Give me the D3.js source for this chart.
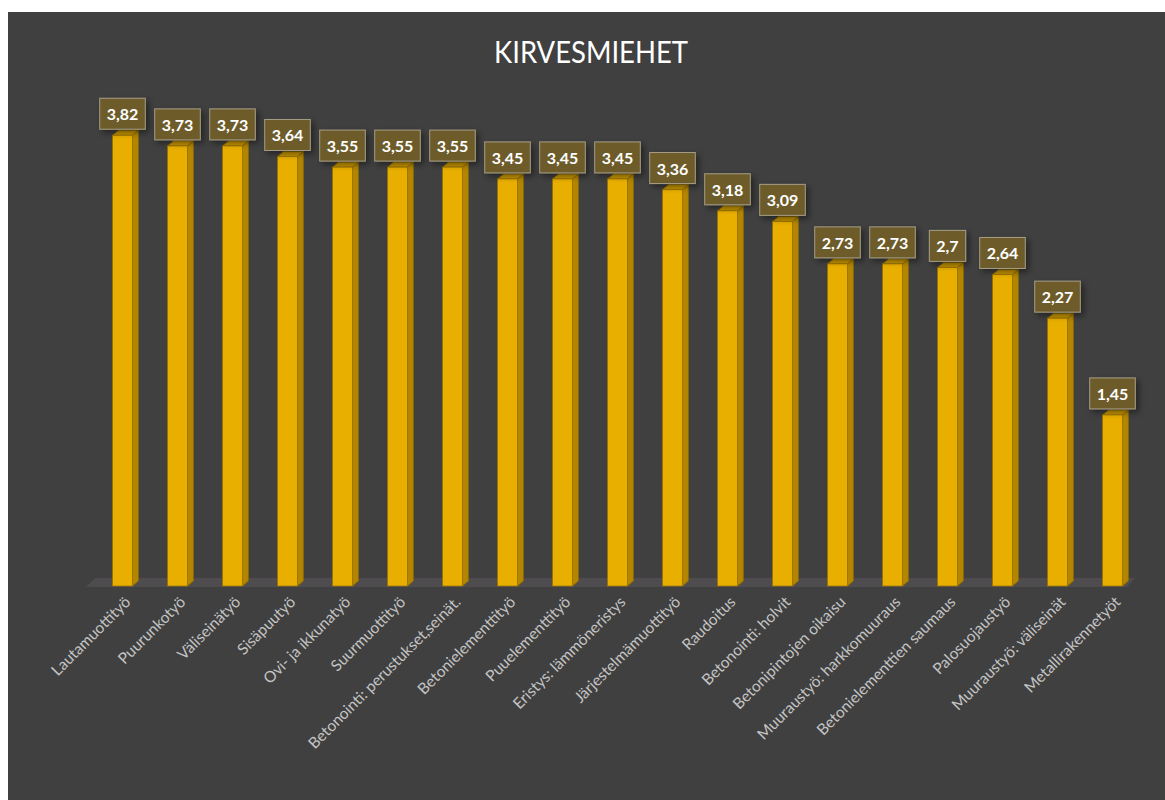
<!DOCTYPE html>
<html>
<head>
<meta charset="utf-8">
<script src="https://cdn.jsdelivr.net/npm/d3@7"></script>
<style>
  html, body { margin: 0; padding: 0; background: #ffffff; }
  svg { display: block; }
</style>
</head>
<body>
<div class="canva"></div>
<script>
const categories = [
  "Lautamuottityö", "Puurunkotyö", "Väliseinätyö", "Sisäpuutyö", "Ovi- ja ikkunatyö",
  "Suurmuottityö", "Betonointi: perustukset,seinät.", "Betonielementtityö", "Puuelementtityö",
  "Eristys: lämmöneristys", "Järjestelmämuottityö", "Raudoitus", "Betonointi: holvit",
  "Betonipintojen oikaisu", "Muuraustyö: harkkomuuraus", "Betonielementtien saumaus",
  "Palosuojaustyö", "Muuraustyö: väliseinät", "Metallirakennetyöt"
];
const values = [3.82, 3.73, 3.73, 3.64, 3.55, 3.55, 3.55, 3.45, 3.45, 3.45, 3.36, 3.18, 3.09, 2.73, 2.73, 2.7, 2.64, 2.27, 1.45];
const title = "KIRVESMIEHET";

const data = categories.map((c, i) => ({cat: c, v: values[i]}));

const W = 1165, H = 800;
const svg = d3.select(".canva").append("svg")
  .attr("width", W)
  .attr("height", H);

const defs = svg.append("defs");
const sh = defs.append("filter").attr("id", "shadow")
  .attr("x", "-50%").attr("y", "-50%").attr("width", "200%").attr("height", "200%");
sh.append("feDropShadow").attr("dx", 3).attr("dy", 3).attr("stdDeviation", 3)
  .attr("flood-color", "#000").attr("flood-opacity", 0.45);

// chart area
svg.append("rect")
  .attr("x", 8).attr("y", 12)
  .attr("width", W - 8).attr("height", H - 12)
  .attr("fill", "#404040");

svg.append("text")
  .attr("x", 591).attr("y", 63)
  .attr("text-anchor", "middle")
  .attr("fill", "#ffffff")
  .style("font-family", "Lato, 'Open Sans', sans-serif")
  .style("font-size", "31px")
  .attr("textLength", 194)
  .attr("lengthAdjust", "spacingAndGlyphs")
  .text(title);

const x = d3.scaleBand()
  .domain(categories)
  .range([95, 1140])
  .paddingInner(0.64)
  .paddingOuter(0.32);

const y = d3.scaleLinear()
  .domain([0, 4.5])
  .range([586, 55]);

const dx = 6, dy = 5;
const base = y(0);

// floor
const [r0, r1] = x.range();
svg.append("polygon")
  .attr("points", [[r0, base - 8], [r1 - 5, base - 8], [r1 - 13, base + 1], [r0 - 9, base + 1]].join(" "))
  .attr("fill", "#4e4c4f");

const bars = svg.append("g").selectAll("g")
  .data(data)
  .enter().append("g");

bars.append("polygon")
  .attr("points", d => {
    const x0 = x(d.cat) + x.bandwidth(), y0 = y(d.v);
    return [[x0, y0], [x0 + dx, y0 - dy], [x0 + dx, base - dy], [x0, base]].join(" ");
  })
  .attr("fill", "#b48600")
  .attr("stroke", "#8f6b00")
  .attr("stroke-width", 0.8);

bars.append("polygon")
  .attr("points", d => {
    const x0 = x(d.cat), y0 = y(d.v), w = x.bandwidth();
    return [[x0, y0], [x0 + dx, y0 - dy], [x0 + w + dx, y0 - dy], [x0 + w, y0]].join(" ");
  })
  .attr("fill", "#c99700")
  .attr("stroke", "#8f6b00")
  .attr("stroke-width", 0.8);

bars.append("rect")
  .attr("x", d => x(d.cat))
  .attr("y", d => y(d.v))
  .attr("width", x.bandwidth())
  .attr("height", d => base - y(d.v))
  .attr("fill", "#e9af00")
  .attr("stroke", "#9a7400")
  .attr("stroke-width", 0.8);

// value labels
const fmt = v => String(v).replace(".", ",");
const lab = svg.append("g").selectAll("g")
  .data(data)
  .enter().append("g")
  .attr("transform", d => `translate(${x(d.cat) + x.bandwidth() / 2}, ${y(d.v) - 6})`);

lab.append("rect")
  .attr("fill", "#6d5b2b")
  .attr("stroke", "#a59d86")
  .attr("stroke-width", 1)
  .attr("filter", "url(#shadow)");

const labText = lab.append("text")
  .attr("text-anchor", "middle")
  .attr("y", -9)
  .attr("fill", "#ffffff")
  .style("font-family", "Lato, 'Open Sans', sans-serif")
  .style("font-weight", "bold")
  .style("font-size", "16px")
  .text(d => fmt(d.v));

labText.each(function() {
  const w = this.getComputedTextLength();
  d3.select(this.parentNode).select("rect")
    .attr("x", -w / 2 - 7).attr("y", -31)
    .attr("width", w + 14).attr("height", 31);
});

// x axis labels
const xAxis = d3.axisBottom(x).tickSize(0).tickPadding(0);
const xg = svg.append("g")
  .attr("transform", `translate(0, ${base})`)
  .call(xAxis);
xg.select(".domain").remove();
xg.selectAll(".tick text")
  .attr("fill", "#c4c4c4")
  .style("font-family", "Lato, 'Open Sans', sans-serif")
  .style("font-size", "15.5px")
  .attr("text-anchor", "end")
  .attr("dy", 0)
  .attr("transform", "translate(9, 17) rotate(-45)");
</script>
</body>
</html>
